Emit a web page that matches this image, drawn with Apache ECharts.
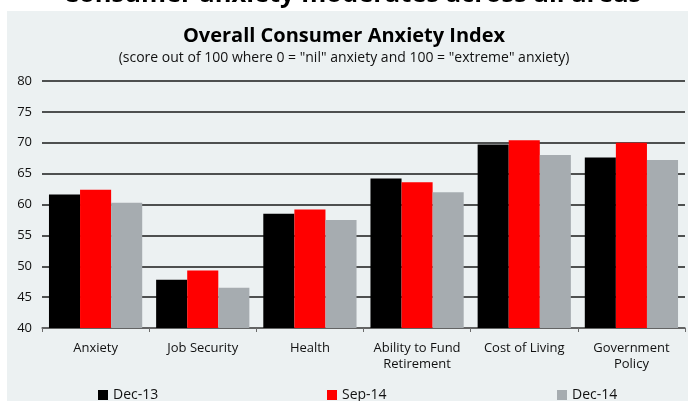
<!DOCTYPE html>
<html>
<head>
<meta charset="utf-8">
<script src="https://cdn.jsdelivr.net/npm/echarts@6/dist/echarts.min.js"></script>
<style>
  html, body { margin: 0; padding: 0; background: #fff; }
  #chart { width: 688px; height: 401px; }
</style>
</head>
<body>
<div id="chart"></div>
<script>
var categories = ['Anxiety', 'Job Security', 'Health', 'Ability to Fund\nRetirement', 'Cost of Living', 'Government\nPolicy']
var dec13 = [61.6, 47.8, 58.5, 64.2, 69.7, 67.6]
var sep14 = [62.4, 49.3, 59.2, 63.6, 70.4, 70.0]
var dec14 = [60.3, 46.5, 57.5, 62.0, 68.0, 67.2]
var yTicks = [40, 45, 50, 55, 60, 65, 70, 75, 80]

var font = '"Open Sans", "Noto Sans", sans-serif'
var chart = echarts.init(document.getElementById('chart'))

function legendItem(name, left) {
  return {
    data: [name],
    left: left,
    top: 383,
    icon: 'rect',
    itemWidth: 10,
    itemHeight: 10,
    itemGap: 4,
    textStyle: { color: '#111', fontSize: 14, fontFamily: font }
  }
}

var option = {
  animation: false,
  backgroundColor: '#fff',
  graphic: [
    {
      type: 'rect',
      shape: { x: 7, y: 11, width: 681, height: 390 },
      style: { fill: '#ecf1f2' },
      z: -10
    },
    {
      type: 'text',
      x: 352,
      y: 8,
      style: {
        text: 'Consumer anxiety moderates across all areas',
        font: 'bold 25.5px ' + font,
        fill: '#000',
        align: 'center',
        verticalAlign: 'bottom'
      }
    }
  ],
  title: {
    text: 'Overall Consumer Anxiety Index',
    subtext: '(score out of 100 where 0 = "nil" anxiety and 100 = "extreme" anxiety)',
    left: 'center',
    top: 21,
    itemGap: 5,
    textStyle: { color: '#000', fontSize: 20, fontWeight: 'bold', fontFamily: font },
    subtextStyle: { color: '#111', fontSize: 14, fontFamily: font }
  },
  legend: [
    legendItem('Dec-13', 93),
    legendItem('Sep-14', 322),
    legendItem('Dec-14', 552)
  ],
  grid: { left: 42, right: 3, top: 81, bottom: 73, containLabel: false },
  xAxis: {
    type: 'category',
    data: categories,
    axisLine: { lineStyle: { color: '#6b6b6b', width: 1.5 } },
    axisTick: { show: true, length: 4, lineStyle: { color: '#6b6b6b' } },
    axisLabel: { color: '#111', fontSize: 13, fontFamily: font, margin: 12, lineHeight: 16, interval: 0 },
    splitLine: { show: false }
  },
  yAxis: {
    type: 'value',
    min: yTicks[0],
    max: yTicks[yTicks.length - 1],
    interval: 5,
    axisLine: { show: false },
    axisTick: { show: false },
    axisLabel: { color: '#111', fontSize: 13, fontFamily: font, margin: 10 },
    splitLine: { lineStyle: { color: '#1a1a1a', width: 1.5 } }
  },
  series: [
    { name: 'Dec-13', type: 'bar', data: dec13, barGap: '0%', barCategoryGap: '13%', itemStyle: { color: '#000' } },
    { name: 'Sep-14', type: 'bar', data: sep14, barGap: '0%', barCategoryGap: '13%', itemStyle: { color: '#ff0000' } },
    { name: 'Dec-14', type: 'bar', data: dec14, barGap: '0%', barCategoryGap: '13%', itemStyle: { color: '#a6acb0' } }
  ]
}

chart.setOption(option)
</script>
</body>
</html>
